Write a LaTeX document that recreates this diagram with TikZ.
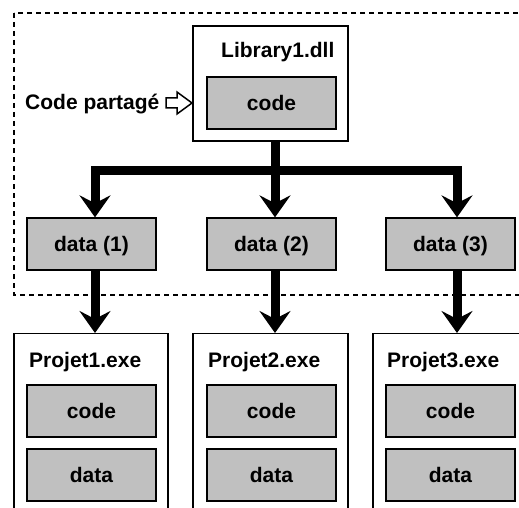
\documentclass[tikz,border=0pt]{standalone}
\usepackage{fontspec}
\setmainfont{Liberation Sans}
\usetikzlibrary{arrows.meta}
\definecolor{boxgray}{HTML}{C0C0C0}
\begin{document}
\begin{tikzpicture}[x=1pt,y=-1pt,
  every node/.style={font=\fontsize{21}{25}\selectfont\bfseries},
  outerbox/.style={draw=black,line width=1.2pt,fill=white,rectangle,inner sep=0pt},
  graybox/.style={draw=black,line width=1.3pt,fill=boxgray,rectangle,inner sep=0pt,
    minimum width=129pt,minimum height=52pt,text height=15pt,text depth=0pt},
  title/.style={anchor=base west,inner sep=0pt},
  bus/.style={line width=9pt,line join=miter,line cap=butt},
  bigtip/.style={-{Stealth[length=22pt,width=31pt,inset=8pt]}},
  frame/.style={line width=1.2pt,dash pattern=on 5pt off 4pt}
]
\clip (0,0) rectangle (519,508);
\fill[white] (0,0) rectangle (519,508);
% dashed frame
\draw[frame] (14,13) rectangle (560,295);
% library
\node[outerbox,minimum width=155pt,minimum height=115pt] (lib) at (270.5,83.5) {};
\node[title] (libtitle) at (221,58) {Library1.dll};
\node[graybox] (libcode) at (271.5,103) {code};
\node[title] (share) at (25,110) {Code partagé};
\draw[line width=1.5pt,line join=miter,fill=white]
  (166,98) -- (177,98) -- (177,92) -- (192,103) -- (177,114) -- (177,108) -- (166,108) -- cycle;
% data boxes
\node[graybox] (d1) at (91.5,244) {data (1)};
\node[graybox] (d2) at (271.5,244) {data (2)};
\node[graybox] (d3) at (450.5,244) {data (3)};
% projects
\node[outerbox,minimum width=154pt,minimum height=190pt,anchor=north] (p1) at (91,333) {};
\node[outerbox,minimum width=155pt,minimum height=190pt,anchor=north] (p2) at (270.5,333) {};
\node[outerbox,minimum width=155pt,minimum height=190pt,anchor=north] (p3) at (450.5,333) {};
\node[title] (p1title) at (29,367) {Projet1.exe};
\node[title] (p2title) at (208,367) {Projet2.exe};
\node[title] (p3title) at (387,367) {Projet3.exe};
\node[graybox] (p1code) at (91.5,411) {code};
\node[graybox] (p1data) at (91.5,475) {data};
\node[graybox] (p2code) at (271.5,411) {code};
\node[graybox] (p2data) at (271.5,475) {data};
\node[graybox] (p3code) at (450.5,411) {code};
\node[graybox] (p3data) at (450.5,475) {data};
% bus coordinates
\coordinate (c1) at (95,170.5);
\coordinate (c2) at (275,170.5);
\coordinate (c3) at (457,170.5);
% connectors
\draw[bus,{Stealth[length=22pt,width=31pt,inset=8pt]}-{Stealth[length=22pt,width=31pt,inset=8pt]}]
  (d1.north -| c1) -- (c1) -- (c3) -- (d3.north -| c3);
\draw[bus,bigtip] (lib.south -| c2) -- (d2.north -| c2);
\draw[bus,bigtip] (d1.south -| c1) -- (p1.north -| c1);
\draw[bus,bigtip] (d2.south -| c2) -- (p2.north -| c2);
\draw[bus,bigtip] (d3.south -| c3) -- (p3.north -| c3);
\end{tikzpicture}
\end{document}
